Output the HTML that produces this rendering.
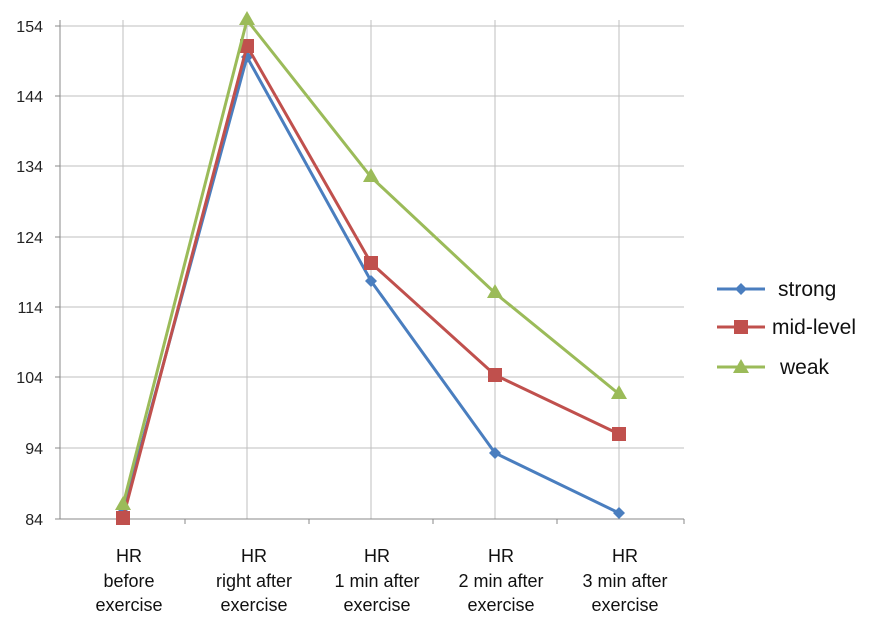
<!DOCTYPE html>
<html><head><style>body{margin:0;background:#fff}svg{display:block;font-family:"Liberation Sans",Arial,sans-serif}</style></head><body>
<svg width="869" height="627" viewBox="0 0 869 627">
<rect width="869" height="627" fill="#fff"/>
<g stroke="#bfbfbf" stroke-width="1">
<line x1="60" y1="26" x2="684" y2="26"/><line x1="60" y1="96" x2="684" y2="96"/><line x1="60" y1="166" x2="684" y2="166"/><line x1="60" y1="237" x2="684" y2="237"/><line x1="60" y1="307" x2="684" y2="307"/><line x1="60" y1="377" x2="684" y2="377"/><line x1="60" y1="448" x2="684" y2="448"/>
<line x1="123" y1="20" x2="123" y2="519"/><line x1="247" y1="20" x2="247" y2="519"/><line x1="371" y1="20" x2="371" y2="519"/><line x1="495" y1="20" x2="495" y2="519"/><line x1="619" y1="20" x2="619" y2="519"/>
</g>
<g stroke="#888" stroke-width="1">
<line x1="60" y1="20" x2="60" y2="519"/><line x1="55" y1="519" x2="684" y2="519"/>
<line x1="185" y1="519" x2="185" y2="524"/><line x1="309" y1="519" x2="309" y2="524"/><line x1="433" y1="519" x2="433" y2="524"/><line x1="557" y1="519" x2="557" y2="524"/><line x1="684" y1="519" x2="684" y2="524"/>
<line x1="55" y1="26" x2="60" y2="26"/><line x1="55" y1="96" x2="60" y2="96"/><line x1="55" y1="166" x2="60" y2="166"/><line x1="55" y1="237" x2="60" y2="237"/><line x1="55" y1="307" x2="60" y2="307"/><line x1="55" y1="377" x2="60" y2="377"/><line x1="55" y1="448" x2="60" y2="448"/>
</g>
<g font-size="16" fill="#222" text-anchor="end">
<text x="43" y="32">154</text><text x="43" y="102">144</text><text x="43" y="172">134</text><text x="43" y="243">124</text><text x="43" y="313">114</text><text x="43" y="383">104</text><text x="43" y="454">94</text><text x="43" y="525">84</text>
</g>
<g font-size="18" fill="#111" text-anchor="middle">
<text x="129" y="562">HR</text><text x="129" y="587">before</text><text x="129" y="611">exercise</text>
<text x="254" y="562">HR</text><text x="254" y="587">right after</text><text x="254" y="611">exercise</text>
<text x="377" y="562">HR</text><text x="377" y="587">1 min after</text><text x="377" y="611">exercise</text>
<text x="501" y="562">HR</text><text x="501" y="587">2 min after</text><text x="501" y="611">exercise</text>
<text x="625" y="562">HR</text><text x="625" y="587">3 min after</text><text x="625" y="611">exercise</text>
</g>
<polyline fill="none" stroke="#4a7ebf" stroke-width="3" points="123,512 247,57 371,281 495,453 619,513"/>
<g fill="#4a7ebf"><path d="M123,506 l6,6 -6,6 -6,-6z"/><path d="M247,51 l6,6 -6,6 -6,-6z"/><path d="M371,275 l6,6 -6,6 -6,-6z"/><path d="M495,447 l6,6 -6,6 -6,-6z"/><path d="M619,507 l6,6 -6,6 -6,-6z"/></g>
<polyline fill="none" stroke="#c0504d" stroke-width="3" points="123,518 247,46 371,263 495,375 619,434"/>
<g fill="#c0504d"><rect x="116" y="511" width="14" height="14"/><rect x="240" y="39" width="14" height="14"/><rect x="364" y="256" width="14" height="14"/><rect x="488" y="368" width="14" height="14"/><rect x="612" y="427" width="14" height="14"/></g>
<polyline fill="none" stroke="#9bbb59" stroke-width="3" points="123,505 247,20 371,177 495,293 619,394"/>
<g fill="#9bbb59"><path d="M123,496 l8,14 -16,0z"/><path d="M247,11 l8,14 -16,0z"/><path d="M371,168 l8,14 -16,0z"/><path d="M495,284 l8,14 -16,0z"/><path d="M619,385 l8,14 -16,0z"/></g>
<line x1="717" y1="289" x2="765" y2="289" stroke="#4a7ebf" stroke-width="3"/><path d="M741,283 l6,6 -6,6 -6,-6z" fill="#4a7ebf"/>
<line x1="717" y1="327" x2="765" y2="327" stroke="#c0504d" stroke-width="3"/><rect x="734" y="320" width="14" height="14" fill="#c0504d"/>
<line x1="717" y1="367" x2="765" y2="367" stroke="#9bbb59" stroke-width="3"/><path d="M741,359 l8,14 -16,0z" fill="#9bbb59"/>
<g font-size="21" fill="#111"><text x="778" y="296">strong</text><text x="772" y="334">mid-level</text><text x="780" y="374">weak</text></g>
</svg>
</body></html>
